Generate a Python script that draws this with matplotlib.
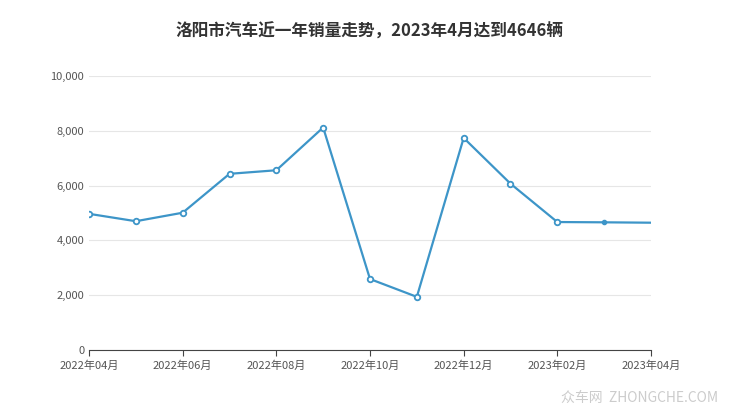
import matplotlib
matplotlib.use('Agg')
import matplotlib.pyplot as plt
from matplotlib.ticker import FuncFormatter

plt.rcParams['font.family'] = ['Noto Sans CJK SC', 'DejaVu Sans']

months = ['2022年04月', '2022年05月', '2022年06月', '2022年07月', '2022年08月', '2022年09月',
          '2022年10月', '2022年11月', '2022年12月', '2023年01月', '2023年02月', '2023年03月', '2023年04月']
sales = [4970, 4700, 5010, 6430, 6560, 8120, 2590, 1940, 7740, 6070, 4670, 4660, 4646]
title = '洛阳市汽车近一年销量走势，2023年4月达到4646辆'

fig = plt.figure(figsize=(7.4, 4.17), dpi=100)
ax = fig.add_axes([89/740, 1-350/417, 562/740, 274/417])
x = list(range(len(sales)))
color = '#3d95c8'
ax.plot(x, sales, color=color, linewidth=1.6)
ax.plot(x[:11], sales[:11], 'o', color=color, markerfacecolor='white', markersize=4, markeredgewidth=1.3)
ax.plot(x[11], sales[11], 'o', color=color, markersize=3)

ax.set_xlim(0, 12)
ax.set_ylim(0, 10000)
ax.set_yticks(range(0, 10001, 2000))
ax.yaxis.set_major_formatter(FuncFormatter(lambda v, p: f'{int(v):,}'))
ax.set_xticks(x[::2])
ax.set_xticklabels(months[::2])
ax.tick_params(axis='both', labelsize=8, colors='#555555', length=0)
ax.tick_params(axis='x', length=4, color='#444444')
ax.grid(axis='y', color='#e6e6e6', linewidth=0.8)
for s in ['top', 'right', 'left']:
    ax.spines[s].set_visible(False)
ax.spines['bottom'].set_color('#444444')

fig.text(0.5, 1-32/417, title, ha='center', va='center', fontsize=12, fontweight='bold', color='#333333')
fig.text(0.97, 1-398/417, '众车网  ZHONGCHE.COM', ha='right', va='center', fontsize=10, color='#cccccc')
fig.savefig('out.png', dpi=100)
